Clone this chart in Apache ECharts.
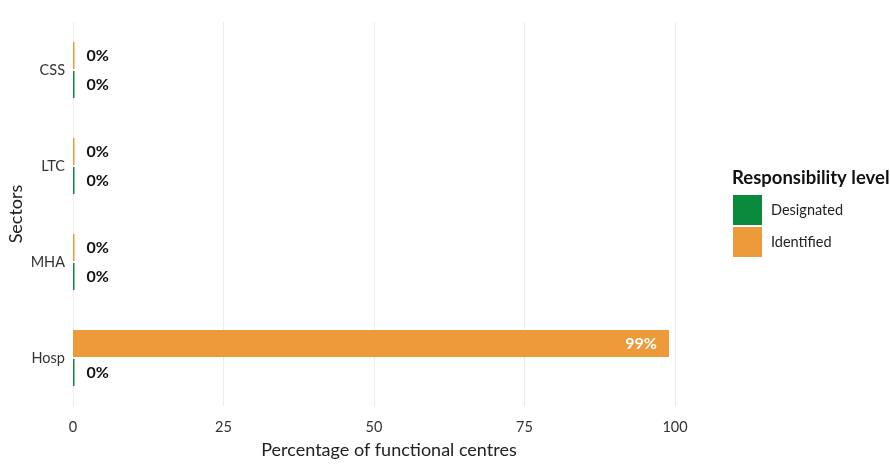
<!DOCTYPE html>
<html>
<head>
<meta charset="utf-8">
<script src="https://cdn.jsdelivr.net/npm/echarts@6/dist/echarts.min.js"></script>
<style>html,body{margin:0;padding:0;background:#fff}#c{width:890px;height:464px}</style>
</head>
<body>
<div id="c"></div>
<script>
const sectors = ['Hosp', 'MHA', 'LTC', 'CSS'];
const designated = [0, 0, 0, 0];
const identified = [99, 0, 0, 0];
const xTicks = [0, 25, 50, 75, 100];

const FONT = 'Lato';
const chart = echarts.init(document.getElementById('c'));
const barLabel = {
  show: true, position: 'right', distance: 12,
  fontFamily: FONT, fontWeight: 'bold', fontSize: 16, color: '#111',
  formatter: p => p.value + '%'
};
chart.setOption({
  animation: false,
  title: {
    text: 'Responsibility level',
    left: 727, top: 164,
    textStyle: { fontFamily: FONT, fontWeight: 'bold', fontSize: 18.5, color: '#111' }
  },
  legend: {
    orient: 'vertical',
    left: 728, top: 190,
    itemWidth: 29, itemHeight: 30, itemGap: 2,
    icon: 'rect',
    textStyle: { fontFamily: FONT, fontSize: 14.5, color: '#222', padding: [0, 0, 0, 4] },
    data: ['Designated', 'Identified']
  },
  grid: { left: 73, right: 215, top: 22, bottom: 58, containLabel: false, outerBoundsMode: 'none' },
  xAxis: {
    type: 'value', min: 0, max: 100, interval: 25,
    name: 'Percentage of functional centres',
    nameLocation: 'middle', nameGap: 35, nameMoveOverlap: false,
    nameTextStyle: { fontFamily: FONT, fontSize: 18, color: '#222', padding: [0, 0, 0, 30] },
    axisLine: { show: false }, axisTick: { show: false },
    axisLabel: { fontFamily: FONT, fontSize: 14.5, color: '#333', margin: 14,
      formatter: v => xTicks.includes(v) ? String(v) : '' },
    splitLine: { show: true, lineStyle: { color: '#ececec', width: 1 } }
  },
  yAxis: {
    type: 'category', data: sectors,
    name: 'Sectors', nameLocation: 'middle', nameGap: 48, nameRotate: 90, nameMoveOverlap: false,
    nameTextStyle: { fontFamily: FONT, fontSize: 18, color: '#222' },
    axisLine: { show: false }, axisTick: { show: false },
    axisLabel: { fontFamily: FONT, fontSize: 14.5, color: '#333', margin: 8 },
    splitLine: { show: false }
  },
  series: [
    {
      name: 'Identified', type: 'bar',
      data: identified.map(v => v > 50
        ? { value: v, label: { position: 'insideRight', color: '#fff' } }
        : v),
      barWidth: 27, barGap: '7%', barMinHeight: 1.5,
      itemStyle: { color: '#ec9a3a' },
      label: barLabel
    },
    {
      name: 'Designated', type: 'bar', data: designated,
      barWidth: 27, barGap: '7%', barMinHeight: 1.5,
      itemStyle: { color: '#0a8a3c' },
      label: barLabel
    }
  ]
});
</script>
</body>
</html>
